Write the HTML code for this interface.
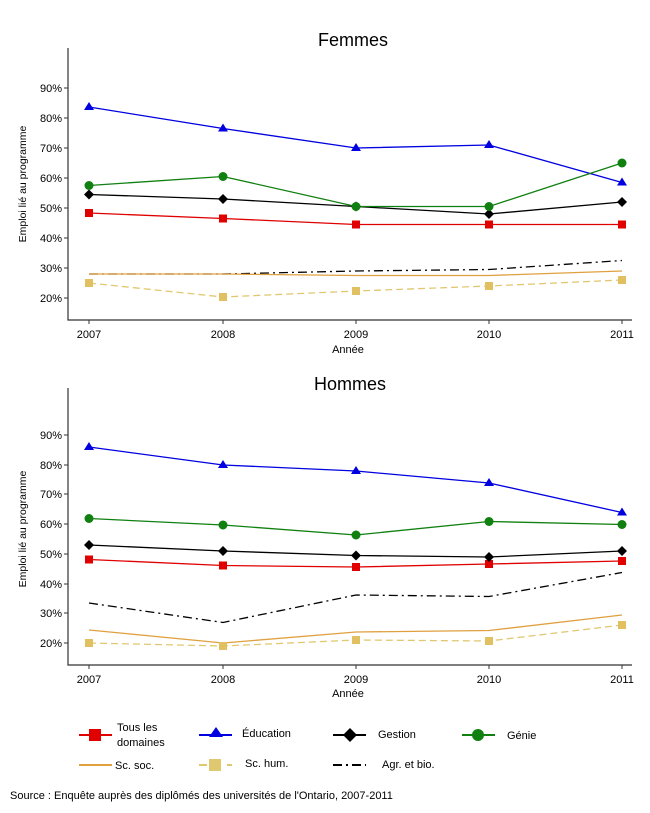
<!DOCTYPE html>
<html><head><meta charset="utf-8"><style>
body{margin:0;background:#fff;}
svg{display:block;font-family:"Liberation Sans",sans-serif;}
</style></head><body>
<svg width="650" height="813" xmlns="http://www.w3.org/2000/svg">
<defs>
<g id="sq"><rect x="-4" y="-4" width="8" height="8"/></g>
</defs>
<script>
</script>
<g id="content"></g>
<text x="353" y="46" font-size="18" text-anchor="middle" fill="#000">Femmes</text>
<text x="350" y="390" font-size="18" text-anchor="middle" fill="#000">Hommes</text>

<!-- Top axes -->
<g stroke="#333" stroke-width="1.2" fill="none">
<path d="M68 48 V320 H632"/>
<path d="M68 388 V665 H632"/>
</g>
<g font-size="11" fill="#000">
<text x="89" y="338" text-anchor="middle">2007</text><text x="223" y="338" text-anchor="middle">2008</text><text x="356" y="338" text-anchor="middle">2009</text><text x="489" y="338" text-anchor="middle">2010</text><text x="622" y="338" text-anchor="middle">2011</text>
<text x="348" y="353" text-anchor="middle">Année</text>
<text x="89" y="683" text-anchor="middle">2007</text><text x="223" y="683" text-anchor="middle">2008</text><text x="356" y="683" text-anchor="middle">2009</text><text x="489" y="683" text-anchor="middle">2010</text><text x="622" y="683" text-anchor="middle">2011</text>
<text x="348" y="697" text-anchor="middle">Année</text>
<text x="62" y="302" text-anchor="end">20%</text><text x="62" y="272" text-anchor="end">30%</text><text x="62" y="242" text-anchor="end">40%</text><text x="62" y="212" text-anchor="end">50%</text><text x="62" y="182" text-anchor="end">60%</text><text x="62" y="152" text-anchor="end">70%</text><text x="62" y="122" text-anchor="end">80%</text><text x="62" y="92" text-anchor="end">90%</text>
<text x="62" y="647" text-anchor="end">20%</text><text x="62" y="617" text-anchor="end">30%</text><text x="62" y="588" text-anchor="end">40%</text><text x="62" y="558" text-anchor="end">50%</text><text x="62" y="528" text-anchor="end">60%</text><text x="62" y="498" text-anchor="end">70%</text><text x="62" y="469" text-anchor="end">80%</text><text x="62" y="439" text-anchor="end">90%</text>
<text transform="translate(26 184) rotate(-90)" text-anchor="middle" font-size="10.5">Emploi lié au programme</text>
<text transform="translate(26 529) rotate(-90)" text-anchor="middle" font-size="10.5">Emploi lié au programme</text>
</g>
<g stroke="#333" stroke-width="1">
<path d="M64 298H68M64 268H68M64 238H68M64 208H68M64 178H68M64 148H68M64 118H68M64 88H68"/>
<path d="M64 643H68M64 613H68M64 584H68M64 554H68M64 524H68M64 494H68M64 465H68M64 435H68"/>
<path d="M89 320V324M223 320V324M356 320V324M489 320V324M622 320V324"/>
<path d="M89 665V669M223 665V669M356 665V669M489 665V669M622 665V669"/>
</g>

<!-- Top series -->
<g fill="none" stroke-width="1.3">
<polyline stroke="#000" stroke-dasharray="9,4,2,4" points="89,274 223,274 356,271 489,269.5 622,260.5"/>
<polyline stroke="#e0a040" points="89,274 223,274 356,275.5 489,275.5 622,271"/>
<polyline stroke="#e0c870" stroke-dasharray="7,4" points="89,283 223,297 356,291 489,286 622,280"/>
<polyline stroke="#e00000" points="89,213 223,218.5 356,224.5 489,224.5 622,224.5"/>
<polyline stroke="#0000e0" points="89,107 223,128.5 356,148 489,145 622,182.5"/>
<polyline stroke="#000" points="89,194.5 223,199 356,206.5 489,214 622,202"/>
<polyline stroke="#108010" points="89,185.5 223,176.5 356,206.5 489,206.5 622,163"/>
</g>
<g fill="#e0c060"><rect x="85" y="279" width="8" height="8"/><rect x="219" y="293" width="8" height="8"/><rect x="352" y="287" width="8" height="8"/><rect x="485" y="282" width="8" height="8"/><rect x="618" y="276" width="8" height="8"/></g>
<g fill="#e00000"><rect x="85" y="209" width="8" height="8"/><rect x="219" y="214.5" width="8" height="8"/><rect x="352" y="220.5" width="8" height="8"/><rect x="485" y="220.5" width="8" height="8"/><rect x="618" y="220.5" width="8" height="8"/></g>
<g fill="#0000e0"><path d="M89 102l5 8h-10z"/><path d="M223 123.5l5 8h-10z"/><path d="M356 143l5 8h-10z"/><path d="M489 140l5 8h-10z"/><path d="M622 177.5l5 8h-10z"/></g>
<g fill="#000"><path d="M89 189.5l5 5-5 5-5-5z"/><path d="M223 194l5 5-5 5-5-5z"/><path d="M356 201.5l5 5-5 5-5-5z"/><path d="M489 209l5 5-5 5-5-5z"/><path d="M622 197l5 5-5 5-5-5z"/></g>
<g fill="#108010"><circle cx="89" cy="185.5" r="4.5"/><circle cx="223" cy="176.5" r="4.5"/><circle cx="356" cy="206.5" r="4.5"/><circle cx="489" cy="206.5" r="4.5"/><circle cx="622" cy="163" r="4.5"/></g>

<!-- Bottom series -->
<g fill="none" stroke-width="1.3">
<polyline stroke="#000" stroke-dasharray="9,4,2,4" points="89,603 223,622.5 356,595 489,596.5 622,572.5"/>
<polyline stroke="#e0a040" points="89,630 223,643 356,632 489,630.5 622,615"/>
<polyline stroke="#e0c870" stroke-dasharray="7,4" points="89,643 223,646 356,640 489,641 622,625"/>
<polyline stroke="#e00000" points="89,559.5 223,565.5 356,567 489,564 622,561"/>
<polyline stroke="#0000e0" points="89,447 223,465 356,471 489,483 622,512.5"/>
<polyline stroke="#000" points="89,545 223,551 356,555.5 489,557 622,551"/>
<polyline stroke="#108010" points="89,518.5 223,525 356,535 489,521.5 622,524.5"/>
</g>
<g fill="#e0c060"><rect x="85" y="639" width="8" height="8"/><rect x="219" y="642" width="8" height="8"/><rect x="352" y="636" width="8" height="8"/><rect x="485" y="637" width="8" height="8"/><rect x="618" y="621" width="8" height="8"/></g>
<g fill="#e00000"><rect x="85" y="555.5" width="8" height="8"/><rect x="219" y="561.5" width="8" height="8"/><rect x="352" y="563" width="8" height="8"/><rect x="485" y="560" width="8" height="8"/><rect x="618" y="557" width="8" height="8"/></g>
<g fill="#0000e0"><path d="M89 442l5 8h-10z"/><path d="M223 460l5 8h-10z"/><path d="M356 466l5 8h-10z"/><path d="M489 478l5 8h-10z"/><path d="M622 507.5l5 8h-10z"/></g>
<g fill="#000"><path d="M89 540l5 5-5 5-5-5z"/><path d="M223 546l5 5-5 5-5-5z"/><path d="M356 550.5l5 5-5 5-5-5z"/><path d="M489 552l5 5-5 5-5-5z"/><path d="M622 546l5 5-5 5-5-5z"/></g>
<g fill="#108010"><circle cx="89" cy="518.5" r="4.5"/><circle cx="223" cy="525" r="4.5"/><circle cx="356" cy="535" r="4.5"/><circle cx="489" cy="521.5" r="4.5"/><circle cx="622" cy="524.5" r="4.5"/></g>

<!-- Legend -->
<g stroke-width="2" fill="none">
<path d="M79 735H112" stroke="#e00000"/>
<path d="M199 735H232" stroke="#0000e0"/>
<path d="M333 735H366" stroke="#000"/>
<path d="M462 735H495" stroke="#108010"/>
<path d="M79 765H112" stroke="#e0a040"/>
<path d="M199 765H232" stroke="#e0c870" stroke-dasharray="8,6"/>
<path d="M333 765H366" stroke="#000" stroke-dasharray="9,4,2,4"/>
</g>
<rect x="89" y="729" width="12" height="12" fill="#e00000"/>
<path d="M216 727l7 10h-14z" fill="#0000e0"/>
<path d="M350 728l7 7-7 7-7-7z" fill="#000"/>
<circle cx="478" cy="735" r="6" fill="#108010"/>
<rect x="209" y="759" width="12" height="12" fill="#e0c870"/>
<g font-size="11" fill="#000">
<text x="117" y="731">Tous les</text><text x="117" y="746">domaines</text>
<text x="242" y="737">Éducation</text>
<text x="378" y="738">Gestion</text>
<text x="507" y="739">Génie</text>
<text x="115" y="769">Sc. soc.</text>
<text x="245" y="767">Sc. hum.</text>
<text x="382" y="768">Agr. et bio.</text>
<text x="10" y="799">Source : Enquête auprès des diplômés des universités de l'Ontario, 2007-2011</text>
</g>
</svg>
</body></html>
